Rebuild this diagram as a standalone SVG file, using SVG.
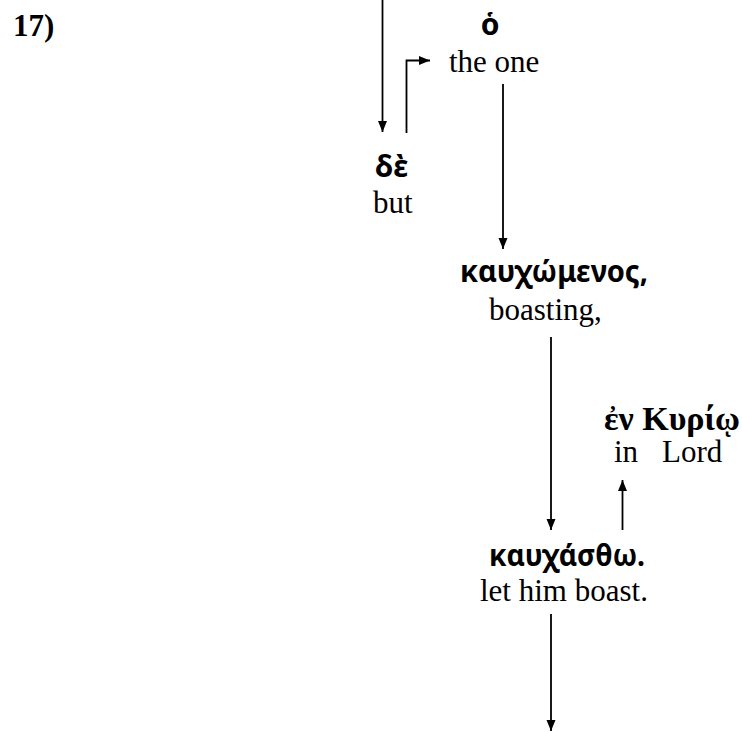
<svg xmlns="http://www.w3.org/2000/svg" width="742" height="732" viewBox="0 0 742 732">
<style>
.en{font-family:"Liberation Serif","Times New Roman",serif;font-size:31px;fill:#000}
.gk{font-family:"Noto Sans","DejaVu Sans",sans-serif;font-size:30px;font-weight:bold;fill:#000}
.gs{font-family:"Liberation Serif","DejaVu Serif",serif;font-size:34px;font-weight:bold;fill:#000}
.num{font-family:"Liberation Serif","Times New Roman",serif;font-size:31px;font-weight:bold;fill:#000}
.c{fill:none;stroke:#000;stroke-width:1.8}
</style>
<defs>
<marker id="ah" markerUnits="userSpaceOnUse" markerWidth="11" markerHeight="10" refX="11" refY="5" orient="auto">
<path d="M0,0.5 L11,5 L0,9.5 z" fill="#000"/>
</marker>
</defs>
<rect width="742" height="732" fill="#fff"/>
<text class="num" x="13" y="36">17)</text>
<g id="connectors">
<path class="c" d="M382.5,0 V132" marker-end="url(#ah)"/>
<path class="c" d="M406.5,133 V60.5 H430" marker-end="url(#ah)"/>
<path class="c" d="M503,84 V249" marker-end="url(#ah)"/>
<path class="c" d="M551,337 V530" marker-end="url(#ah)"/>
<path class="c" d="M622.5,530 V480" marker-end="url(#ah)"/>
<path class="c" d="M551,614 V731" marker-end="url(#ah)"/>
</g>
<g id="node-ho">
<text class="gk" x="490" y="35" text-anchor="middle">ὁ</text>
<text class="en" x="449" y="72">the one</text>
</g>
<g id="node-de">
<text class="gk" x="375" y="177">δὲ</text>
<text class="en" x="373" y="213">but</text>
</g>
<g id="node-kauchomenos">
<text class="gk" x="460" y="282" textLength="188" lengthAdjust="spacingAndGlyphs">καυχώμενος,</text>
<text class="en" x="489" y="320">boasting,</text>
</g>
<g id="node-en-kyrio">
<text class="gs" x="604" y="430" textLength="136" lengthAdjust="spacingAndGlyphs">ἐν Κυρίῳ</text>
<text class="en" y="462"><tspan x="614">in</tspan><tspan x="662">Lord</tspan></text>
</g>
<g id="node-kauchastho">
<text class="gk" x="489" y="566" textLength="156" lengthAdjust="spacingAndGlyphs">καυχάσθω.</text>
<text class="en" x="480" y="601">let him boast.</text>
</g>
</svg>
